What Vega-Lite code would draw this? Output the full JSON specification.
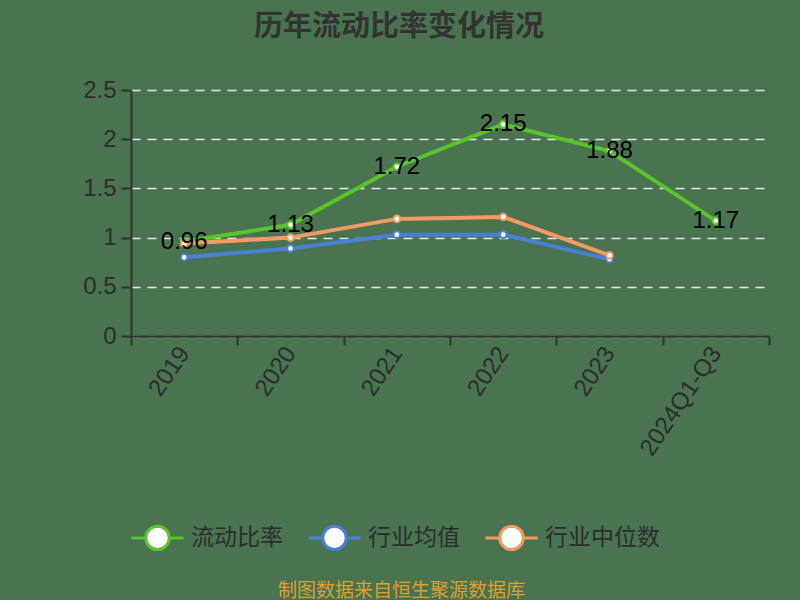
{
  "$schema": "https://vega.github.io/schema/vega-lite/v6.json",
  "autosize": "none",
  "width": 638,
  "height": 246,
  "padding": {"left": 131, "top": 90, "right": 31, "bottom": 264},
  "background": "#4a7350",
  "title": {
    "text": "历年流动比率变化情况",
    "fontSize": 29,
    "fontWeight": "bold",
    "font": "Noto Sans CJK SC",
    "color": "#333333",
    "anchor": "middle",
    "frame": "group",
    "dx": -51,
    "offset": 36
  },
  "config": {
    "view": {"stroke": null},
    "font": "Liberation Sans",
    "axis": {
      "labelColor": "#2e2e2e",
      "labelFontSize": 24,
      "domainColor": "#333333",
      "domainWidth": 2,
      "tickColor": "#333333",
      "tickWidth": 2
    }
  },
  "data": {
    "values": [
      {"year": "2019", "series": "流动比率", "value": 0.96},
      {"year": "2020", "series": "流动比率", "value": 1.13},
      {"year": "2021", "series": "流动比率", "value": 1.72},
      {"year": "2022", "series": "流动比率", "value": 2.15},
      {"year": "2023", "series": "流动比率", "value": 1.88},
      {"year": "2024Q1-Q3", "series": "流动比率", "value": 1.17},
      {"year": "2019", "series": "行业均值", "value": 0.8},
      {"year": "2020", "series": "行业均值", "value": 0.89},
      {"year": "2021", "series": "行业均值", "value": 1.03},
      {"year": "2022", "series": "行业均值", "value": 1.03},
      {"year": "2023", "series": "行业均值", "value": 0.78},
      {"year": "2019", "series": "行业中位数", "value": 0.94},
      {"year": "2020", "series": "行业中位数", "value": 1.0},
      {"year": "2021", "series": "行业中位数", "value": 1.19},
      {"year": "2022", "series": "行业中位数", "value": 1.21},
      {"year": "2023", "series": "行业中位数", "value": 0.82}
    ]
  },
  "encoding": {
    "x": {
      "field": "year",
      "type": "nominal",
      "sort": null,
      "scale": {"type": "band", "paddingInner": 0, "paddingOuter": 0},
      "axis": {
        "title": "制图数据来自恒生聚源数据库",
        "titleColor": "#dda02c",
        "titleFontSize": 19,
        "titleFontWeight": "normal",
        "titleFont": "Noto Sans CJK SC",
        "titleX": 270,
        "titleY": 254,
        "titleAlign": "center",
        "titleBaseline": "middle",
        "labelAngle": -56,
        "labelAlign": "right",
        "labelBaseline": "middle",
        "labelPadding": 4,
        "tickSize": 9,
        "tickBand": "extent",
        "grid": false
      }
    },
    "y": {
      "field": "value",
      "type": "quantitative",
      "scale": {"domain": [0, 2.5], "nice": false},
      "axis": {
        "title": null,
        "values": [0, 0.5, 1, 1.5, 2, 2.5],
        "format": "~g",
        "tickSize": 10,
        "labelPadding": 5,
        "grid": true,
        "gridColor": "#e6e6e6",
        "gridDash": [9, 7],
        "gridWidth": 1.5
      }
    },
    "color": {
      "field": "series",
      "type": "nominal",
      "scale": {
        "domain": ["流动比率", "行业均值", "行业中位数"],
        "range": ["#5ac42c", "#4a80d4", "#f39a64"]
      },
      "legend": {
        "title": null,
        "orient": "none",
        "direction": "horizontal",
        "legendX": -1,
        "legendY": 420,
        "padding": 0,
        "labelFontSize": 23,
        "labelFont": "Noto Sans CJK SC",
        "labelColor": "#2e2e2e",
        "labelOffset": 6,
        "columnPadding": 19,
        "symbolType": "M-1,0H-0.45M0.45,0H1M0.45,0A0.45,0.45 0 1 1 -0.45,0A0.45,0.45 0 1 1 0.45,0Z",
        "symbolSize": 2704,
        "symbolStrokeWidth": 3,
        "symbolFillColor": "white"
      }
    }
  },
  "layer": [
    {
      "mark": {"type": "line", "strokeWidth": 4}
    },
    {
      "mark": {"type": "point", "filled": false, "fill": "white", "fillOpacity": 1, "opacity": 1, "strokeWidth": 2, "size": 45}
    },
    {
      "transform": [{"filter": "datum.series === '流动比率'"}],
      "mark": {"type": "text", "fontSize": 24, "color": "black", "align": "center", "baseline": "middle", "font": "Liberation Sans"},
      "encoding": {
        "text": {"field": "value", "type": "quantitative", "format": ".2f"},
        "color": {"value": "black"}
      }
    }
  ]
}
